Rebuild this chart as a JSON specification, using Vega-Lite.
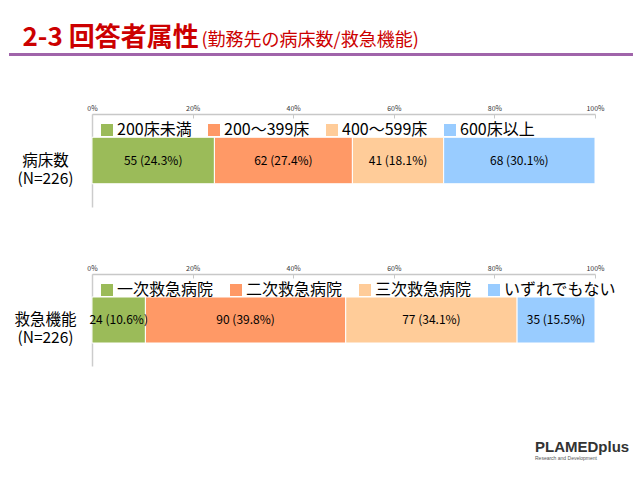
{
  "$schema": "https://vega.github.io/schema/vega-lite/v6.json",
  "padding": {"left": 9, "top": 24, "right": 0, "bottom": 0},
  "background": "white",
  "config": {"font": "Noto Sans CJK JP", "view": {"stroke": null}, "axis": {"grid": false}},
  "title": {"text": "PLAMEDplus", "subtitle": "Research and Development", "orient": "bottom", "anchor": "start", "frame": "bounds", "dx": 526, "offset": 74, "fontSize": 15, "fontWeight": "bold", "color": "#333333", "font": "Liberation Sans", "subtitleFontSize": 5, "subtitleColor": "#555555", "subtitleFont": "Liberation Sans", "subtitlePadding": 1},
  "spacing": 48,
  "vconcat": [
    {
      "width": 503,
      "height": 3,
      "data": {"values": [{"line": "title rule"}]},
      "mark": {"type": "rect", "color": "#A064AA"},
      "encoding": {
        "x": {"datum": -16.5, "type": "quantitative", "scale": {"domain": [0, 100], "nice": false, "zero": false},
          "axis": {"orient": "bottom", "domain": false, "ticks": false, "labels": false, "grid": false, "title": "(勤務先の病床数/救急機能)", "titleX": 109, "titleY": -11, "titleAlign": "left", "titleBaseline": "alphabetic", "titleFontSize": 18, "titleFontWeight": "normal", "titleColor": "#CC0000", "titleAngle": 0}},
        "x2": {"datum": 107.55},
        "y": {"datum": 0, "type": "quantitative", "scale": {"domain": [0, 1], "nice": false, "zero": false},
          "axis": {"orient": "left", "domain": false, "ticks": false, "labels": false, "grid": false, "title": "2-3 回答者属性", "titleX": -70, "titleY": -8, "titleAlign": "left", "titleBaseline": "alphabetic", "titleAngle": 0, "titleFontSize": 26, "titleFontWeight": "bold", "titleColor": "#CC0000"}},
        "y2": {"datum": 1}
      }
    },
    {
      "spacing": 57,
      "resolve": {"scale": {"color": "independent", "x": "independent", "y": "independent"}, "legend": {"color": "independent"}},
      "vconcat": [
        {
          "width": 503,
          "height": 93,
          "data": {"values": [
            {"item": "病床数 (N=226)", "category": "200床未満", "n": 55, "label": "55 (24.3%)", "order": 1},
            {"item": "病床数 (N=226)", "category": "200～399床", "n": 62, "label": "62 (27.4%)", "order": 2},
            {"item": "病床数 (N=226)", "category": "400～599床", "n": 41, "label": "41 (18.1%)", "order": 3},
            {"item": "病床数 (N=226)", "category": "600床以上", "n": 68, "label": "68 (30.1%)", "order": 4}
          ]},
          "encoding": {
            "y": {"field": "item", "type": "nominal", "scale": {"paddingInner": 0, "paddingOuter": 0.5},
              "axis": {"title": null, "orient": "left", "ticks": false, "labelExpr": "split(datum.value, ' ')", "labelAlign": "center", "labelBaseline": "middle", "labelPadding": 47, "labelFontSize": 15.5, "labelLineHeight": 18, "labelColor": "#000000", "domainColor": "#CCCCCC", "domainWidth": 1.5}},
            "x": {"field": "n", "type": "quantitative", "stack": "normalize", "scale": {"domain": [0, 1], "nice": false},
              "axis": {"orient": "top", "values": [0, 0.2, 0.4, 0.6, 0.8, 1], "format": ".0%", "title": null, "labelFontSize": 7, "labelColor": "#333333", "labelPadding": 7, "tickSize": -4, "tickColor": "#C8C8C8", "domainColor": "#C8C8C8", "domainWidth": 1.5, "labelFlush": false}},
            "order": {"field": "order", "type": "quantitative"}
          },
          "layer": [
            {"mark": {"type": "bar", "stroke": "white", "strokeWidth": 1},
             "encoding": {"color": {"field": "category", "type": "nominal",
               "scale": {"domain": ["200床未満", "200～399床", "400～599床", "600床以上"], "range": ["#9BBB59", "#FF9966", "#FFCC99", "#99CCFF"]},
               "legend": {"title": null, "orient": "none", "legendX": 7, "legendY": 8, "direction": "horizontal", "columns": 4, "symbolType": "square", "symbolSize": 144, "symbolStrokeWidth": 0, "labelFontSize": 16, "labelColor": "#000000", "columnPadding": 14, "labelOffset": 2, "padding": 0, "labelLimit": 200}}}},
            {"mark": {"type": "text", "fontSize": 12, "color": "#000000"},
             "encoding": {"x": {"field": "n", "type": "quantitative", "stack": "normalize", "bandPosition": 0.5}, "detail": {"field": "category"}, "text": {"field": "label"}}}
          ]
        },
        {
          "width": 503,
          "height": 92,
          "data": {"values": [
            {"item": "救急機能 (N=226)", "category": "一次救急病院", "n": 24, "label": "24 (10.6%)", "order": 1},
            {"item": "救急機能 (N=226)", "category": "二次救急病院", "n": 90, "label": "90 (39.8%)", "order": 2},
            {"item": "救急機能 (N=226)", "category": "三次救急病院", "n": 77, "label": "77 (34.1%)", "order": 3},
            {"item": "救急機能 (N=226)", "category": "いずれでもない", "n": 35, "label": "35 (15.5%)", "order": 4}
          ]},
          "encoding": {
            "y": {"field": "item", "type": "nominal", "scale": {"paddingInner": 0, "paddingOuter": 0.5},
              "axis": {"title": null, "orient": "left", "ticks": false, "labelExpr": "split(datum.value, ' ')", "labelAlign": "center", "labelBaseline": "middle", "labelPadding": 47, "labelFontSize": 15.5, "labelLineHeight": 18, "labelColor": "#000000", "domainColor": "#CCCCCC", "domainWidth": 1.5}},
            "x": {"field": "n", "type": "quantitative", "stack": "normalize", "scale": {"domain": [0, 1], "nice": false},
              "axis": {"orient": "top", "values": [0, 0.2, 0.4, 0.6, 0.8, 1], "format": ".0%", "title": null, "labelFontSize": 7, "labelColor": "#333333", "labelPadding": 7, "tickSize": -4, "tickColor": "#C8C8C8", "domainColor": "#C8C8C8", "domainWidth": 1.5, "labelFlush": false}},
            "order": {"field": "order", "type": "quantitative"}
          },
          "layer": [
            {"mark": {"type": "bar", "stroke": "white", "strokeWidth": 1},
             "encoding": {"color": {"field": "category", "type": "nominal",
               "scale": {"domain": ["一次救急病院", "二次救急病院", "三次救急病院", "いずれでもない"], "range": ["#9BBB59", "#FF9966", "#FFCC99", "#99CCFF"]},
               "legend": {"title": null, "orient": "none", "legendX": 7, "legendY": 8, "direction": "horizontal", "columns": 4, "symbolType": "square", "symbolSize": 144, "symbolStrokeWidth": 0, "labelFontSize": 16, "labelColor": "#000000", "columnPadding": 14, "labelOffset": 2, "padding": 0, "labelLimit": 200}}}},
            {"mark": {"type": "text", "fontSize": 12, "color": "#000000"},
             "encoding": {"x": {"field": "n", "type": "quantitative", "stack": "normalize", "bandPosition": 0.5}, "detail": {"field": "category"}, "text": {"field": "label"}}}
          ]
        }
      ]
    }
  ]
}
